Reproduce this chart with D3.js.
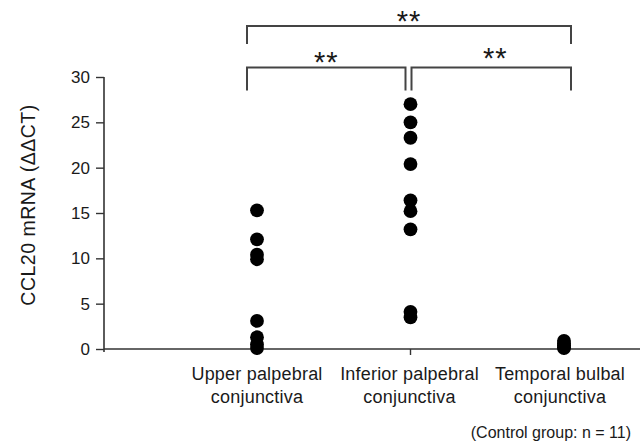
<!DOCTYPE html>
<html>
<head>
<meta charset="utf-8">
<script src="https://cdn.jsdelivr.net/npm/d3@7"></script>
<style>
  html, body { margin: 0; padding: 0; background: #fff; }
  svg { display: block; }
  text { font-family: "Liberation Sans", Arial, sans-serif; fill: #1a1a1a; }
</style>
</head>
<body>
<svg id="chart" width="644" height="442"></svg>
<script>
// ---- data ----
const categories = ["Upper palpebral\nconjunctiva", "Inferior palpebral\nconjunctiva", "Temporal bulbal\nconjunctiva"];
const upperValues = [15.3, 12.1, 10.4, 9.9, 3.1, 1.3, 0.5, 0.1];
const inferiorValues = [27.0, 25.0, 23.3, 20.4, 16.4, 15.2, 13.2, 4.1, 3.5];
const temporalValues = [0.9, 0.6, 0.4, 0.2, 0.1];
const yTicks = [0, 5, 10, 15, 20, 25, 30];
const yTitle = "CCL20 mRNA (ΔΔCT)";
const note = "(Control group: n = 11)";
const comparisons = [
  { a: 0, b: 2, label: "**", level: "top" },
  { a: 0, b: 1, label: "**", level: "low" },
  { a: 1, b: 2, label: "**", level: "low" }
];

const seriesValues = [upperValues, inferiorValues, temporalValues];

// ---- layout ----
const svg = d3.select("#chart");
const axisX0 = 104, axisX1 = 640;
const y = d3.scaleLinear().domain([0, 30]).range([349, 77]);
const x = d3.scalePoint().domain(categories).range([257, 564]);

const axisColor = "#333";

// y axis
const yAxis = d3.axisLeft(y).tickValues(yTicks).tickSize(8).tickPadding(6);
const gy = svg.append("g").attr("transform", `translate(${axisX0},0)`).call(yAxis);
gy.select(".domain").attr("stroke", axisColor).attr("stroke-width", 1.6)
  .attr("d", `M0,${y(30)}V${y(0) + 3}`);
gy.selectAll(".tick line").attr("stroke", axisColor).attr("stroke-width", 1.4);
gy.selectAll(".tick text").attr("font-size", 17).attr("fill", "#1a1a1a")
  .style("font-family", '"Liberation Sans", Arial, sans-serif');

// x axis line
svg.append("line")
  .attr("x1", axisX0).attr("x2", axisX1)
  .attr("y1", y(0)).attr("y2", y(0))
  .attr("stroke", axisColor).attr("stroke-width", 1.6);
// x ticks
svg.selectAll("line.xtick").data(categories).join("line")
  .attr("class", "xtick")
  .attr("x1", d => x(d)).attr("x2", d => x(d))
  .attr("y1", y(0)).attr("y2", y(0) + 6)
  .attr("stroke", axisColor).attr("stroke-width", 1.4);

// category labels
const labelCenters = [0, -1, -4];
categories.forEach((c, i) => {
  const lines = c.split("\n");
  const t = svg.append("text")
    .attr("text-anchor", "middle")
    .attr("font-size", 18)
    .attr("letter-spacing", 0.2);
  lines.forEach((ln, j) => {
    t.append("tspan").attr("x", x(c) + labelCenters[i]).attr("y", 379.5 + j * 23.5).text(ln);
  });
});

// note
svg.append("text")
  .attr("x", 631).attr("y", 437.5)
  .attr("text-anchor", "end")
  .attr("font-size", 16)
  .text(note);

// y title
svg.append("text")
  .attr("transform", `translate(35,205) rotate(-90)`)
  .attr("text-anchor", "middle")
  .attr("font-size", 19.5)
  .attr("letter-spacing", 0.5)
  .text(yTitle);

// points
categories.forEach((c, i) => {
  svg.append("g").selectAll("circle").data(seriesValues[i]).join("circle")
    .attr("cx", x(c))
    .attr("cy", d => y(d))
    .attr("r", 6.9)
    .attr("fill", "#000");
});

// significance brackets
const bracketColor = "#444";
comparisons.forEach(cmp => {
  const xa = x(categories[cmp.a]) + (cmp.a === 0 ? -10 : 1);
  const xb = x(categories[cmp.b]) + (cmp.b === 2 ? 7 : -5);
  const top = cmp.level === "top" ? 26 : 67.5;
  const bottom = cmp.level === "top" ? 44 : 90.5;
  svg.append("path")
    .attr("d", `M${xa},${bottom}V${top}H${xb}V${bottom}`)
    .attr("fill", "none")
    .attr("stroke", bracketColor)
    .attr("stroke-width", 2);
  let cx = (xa + xb) / 2;
  let cy;
  if (cmp.level === "top") { cy = 16.5; }
  else if (cmp.a === 0) { cy = 58; }
  else { cy = 53.5; cx += 4; }
  svg.append("text")
    .attr("x", cx).attr("y", cy + 14)
    .attr("text-anchor", "middle")
    .attr("font-size", 29)
    .attr("letter-spacing", 1)
    .text(cmp.label);
});
</script>
</body>
</html>
